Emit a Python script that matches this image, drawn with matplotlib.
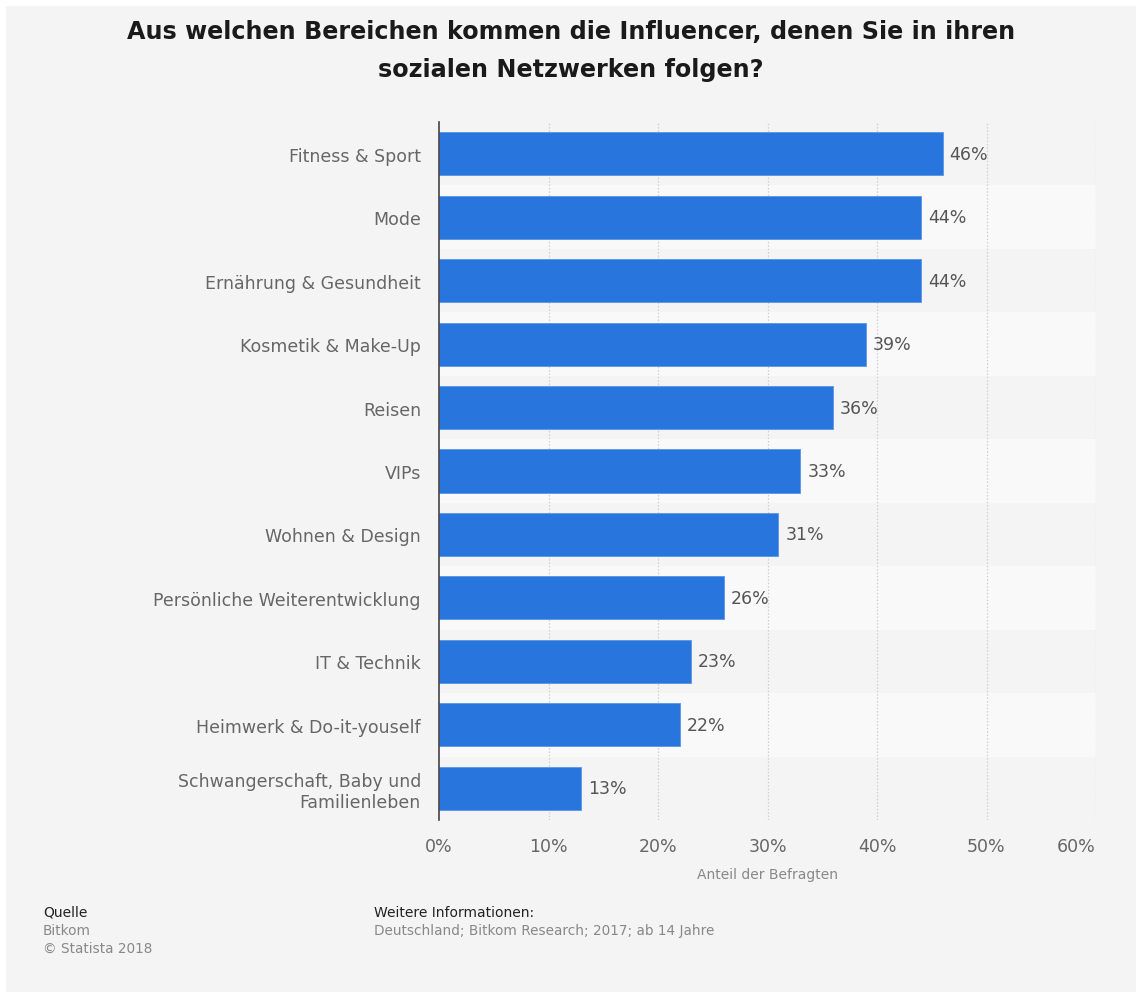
import numpy as np
import matplotlib
matplotlib.use("Agg")
import matplotlib.pyplot as plt
from matplotlib.patches import Rectangle

plt.rcParams["font.family"] = ["DejaVu Sans"]

categories = [
    "Fitness & Sport",
    "Mode",
    "Ernährung & Gesundheit",
    "Kosmetik & Make-Up",
    "Reisen",
    "VIPs",
    "Wohnen & Design",
    "Persönliche Weiterentwicklung",
    "IT & Technik",
    "Heimwerk & Do-it-youself",
    "Schwangerschaft, Baby und\nFamilienleben",
]
shares = [46, 44, 44, 39, 36, 33, 31, 26, 23, 22, 13]
xticks = [0, 10, 20, 30, 40, 50, 60]

W, H = 1136, 995
fig = plt.figure(figsize=(W / 100, H / 100), dpi=100, facecolor="white")
# grey card behind everything
fig.patches.append(Rectangle((6 / W, 2 / H), 1, (H - 9) / H, transform=fig.transFigure,
                             facecolor="#f4f4f4", edgecolor="none", zorder=-10))

ax = fig.add_axes([439 / W, 1 - 821 / H, (1096 - 439) / W, (821 - 123) / H])
ax.set_facecolor("none")

y = np.arange(len(categories))
# alternating row bands
for i in y:
    if i % 2 == 1:
        ax.axhspan(i - 0.5, i + 0.5, color="#f9f9f9", zorder=0, lw=0)

ax.barh(y, shares, height=0.68, color="#2876dd", edgecolor="#5a95e6",
        linewidth=0.6, zorder=3)
for yi, v in zip(y, shares):
    ax.annotate(f"{v}%", (v, yi), xytext=(5, 0), textcoords="offset points",
                ha="left", va="center", fontsize=12.5, color="#555555")

ax.set_xlim(0, 60)
ax.set_ylim(len(categories) - 0.5, -0.5)
ax.set_xticks(xticks)
ax.set_xticklabels([f"{t}%" for t in xticks])
ax.get_xticklabels()[-1].set_ha("right")
ax.set_yticks(y)
ax.set_yticklabels(categories)
ax.tick_params(axis="both", length=0, labelsize=12.5, labelcolor="#666666")
ax.tick_params(axis="y", pad=13)
ax.tick_params(axis="x", pad=12)

for t in xticks[1:]:
    ax.axvline(t, color="#cfcfcf", lw=0.9, ls=(0, (1.2, 1.5)), zorder=1)

for s in ["top", "right", "bottom"]:
    ax.spines[s].set_visible(False)
ax.spines["left"].set_color("#444444")
ax.spines["left"].set_linewidth(1.2)
ax.spines["left"].set_zorder(5)

ax.set_xlabel("Anteil der Befragten", fontsize=10, color="#888888", labelpad=9)

fig.text(571 / W, 1 - 32 / H, "Aus welchen Bereichen kommen die Influencer, denen Sie in ihren",
         ha="center", va="center", fontsize=17.2, fontweight="bold", color="#1a1a1a")
fig.text(571 / W, 1 - 70 / H, "sozialen Netzwerken folgen?",
         ha="center", va="center", fontsize=17.2, fontweight="bold", color="#1a1a1a")

fig.text(43 / W, 1 - 913 / H, "Quelle", ha="left", va="center", fontsize=10, color="#222222")
fig.text(43 / W, 1 - 931 / H, "Bitkom", ha="left", va="center", fontsize=9.8, color="#888888")
fig.text(43 / W, 1 - 949 / H, "© Statista 2018", ha="left", va="center", fontsize=9.8, color="#888888")
fig.text(374 / W, 1 - 913 / H, "Weitere Informationen:", ha="left", va="center",
         fontsize=10, color="#222222")
fig.text(374 / W, 1 - 931 / H, "Deutschland; Bitkom Research; 2017; ab 14 Jahre",
         ha="left", va="center", fontsize=9.8, color="#888888")

fig.savefig("out.png", dpi=100, facecolor=fig.get_facecolor())
